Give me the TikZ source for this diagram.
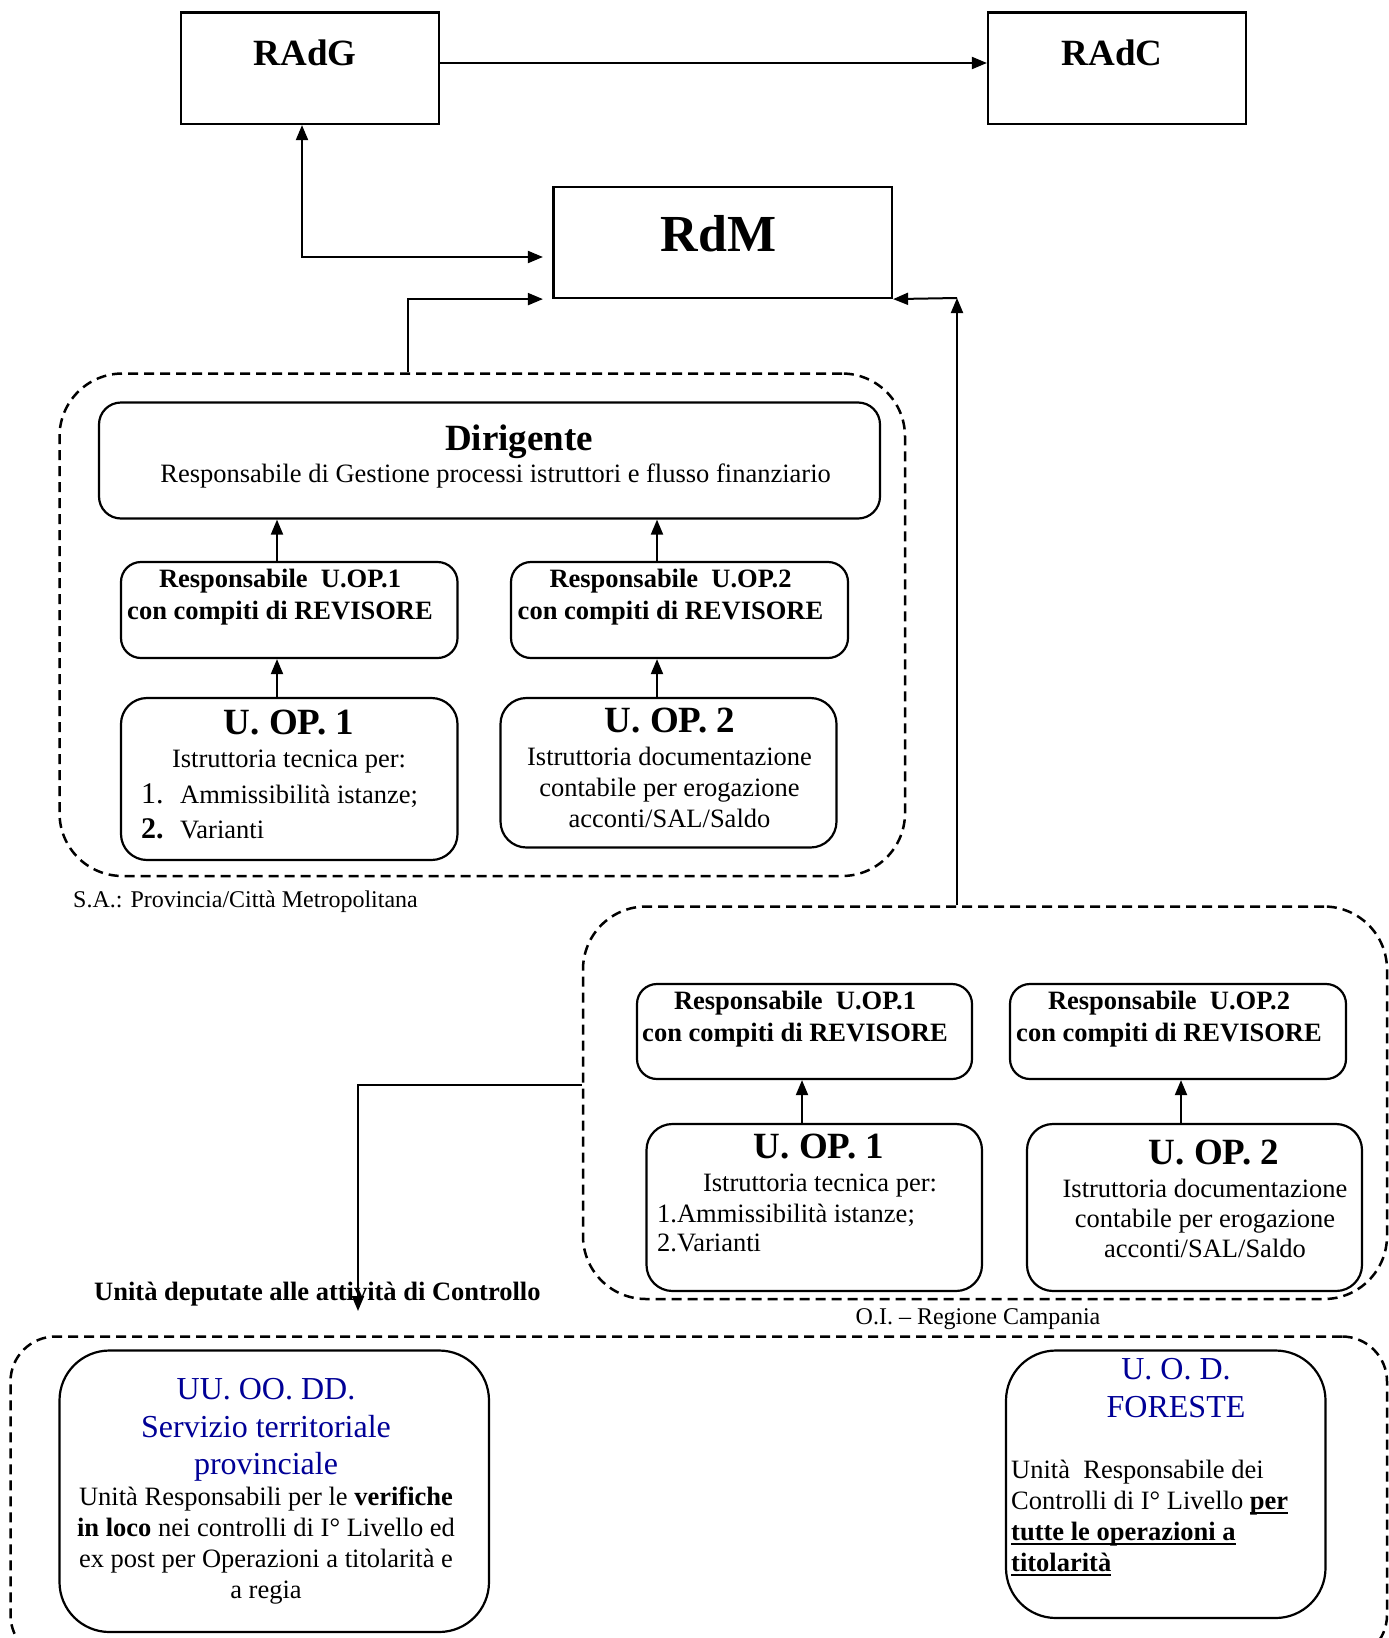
\documentclass[tikz,border=0pt]{standalone}
\usepackage{fontspec}
\setmainfont{Liberation Serif}
\usetikzlibrary{arrows.meta}
\definecolor{unitblue}{RGB}{0,0,150}
\newcommand{\fsz}[2]{\fontsize{#1}{#2}\selectfont}
% underline with a heavier rule, as used for emphasised phrases
\newcommand{\thickul}[1]{\setbox0=\hbox{#1}\leavevmode\rlap{\rule[-4.5pt]{\wd0}{2pt}}\box0}

\begin{document}
\begin{tikzpicture}[x=1pt,y=-1pt,
  frame/.style={draw, line width=2.2pt, inner sep=0pt, rectangle},
  rframe/.style={frame, rounded corners=#1},
  group/.style={draw, line width=2.5pt, dash pattern=on 10pt off 6pt,
                rounded corners=#1, inner sep=0pt, rectangle},
  link/.style={line width=2pt, -{Triangle[length=15pt,width=12pt]}},
  duallink/.style={line width=2pt,
     {Triangle[length=15pt,width=12pt]}-{Triangle[length=15pt,width=12pt]}},
  txt/.style={inner sep=0pt, font=\fsz{26.5}{31}},
  btxt/.style={inner sep=0pt, font=\bfseries\fsz{26.5}{32.5}, align=center},
  head/.style={inner sep=0pt, font=\bfseries\fsz{37}{40}},
  note/.style={inner sep=0pt, font=\fsz{24}{28}},
  bluetxt/.style={inner sep=0pt, font=\fsz{32}{37.5}, text=unitblue, align=center}
]
\useasboundingbox (0,0) rectangle (1389,1638);
\clip (0,0) rectangle (1389,1638);

% --- top level authorities ---
\node[frame, minimum width=258pt, minimum height=111.5pt] (RAdG) at (310,68.25) {};
\node[frame, minimum width=258pt, minimum height=111.5pt] (RAdC) at (1117,68.25) {};
\node[frame, minimum width=338.5pt, minimum height=111pt] (RdM) at (722.75,242.5) {};
\node[head] (tRAdG) at (305,53) {RAdG};
\node[head] (tRAdC) at (1112,53) {RAdC};
\node[inner sep=0pt, font=\bfseries\fsz{52}{56}] (tRdM) at (718.6,234) {RdM};

% --- S.A. group ---
\node[group=63pt, minimum width=845.5pt, minimum height=502.5pt] (SA) at (482.25,624.75) {};
\node[rframe=22pt, minimum width=781pt, minimum height=116pt] (Dir) at (489.5,460.5) {};
\node[rframe=20pt, minimum width=336.5pt, minimum height=96pt] (R1) at (289.25,610) {};
\node[rframe=20pt, minimum width=337pt, minimum height=96pt] (R2) at (679.5,610) {};
\node[rframe=26pt, minimum width=336.5pt, minimum height=162pt] (U1) at (289.25,779) {};
\node[rframe=26pt, minimum width=336pt, minimum height=149.5pt] (U2) at (668.5,772.75) {};

\node[head] (tDir) at (519,441.5) {Dirigente};
\node[txt] (tDirSub) at (495.6,476) {Responsabile di Gestione processi istruttori e flusso finanziario};
\node[btxt] (tR1) at (280,597) {Responsabile\ \ U.OP.1\\con compiti di REVISORE};
\node[btxt] (tR2) at (670.5,597) {Responsabile\ \ U.OP.2\\con compiti di REVISORE};
\node[head] (tU1h) at (289,723) {U. OP. 1};
\node[txt] (tU1a) at (289,762) {Istruttoria tecnica per:};
\node[txt, anchor=base west, font=\fsz{30}{31}] (tU1n1) at (141,803) {1.};
\node[txt, anchor=base west] (tU1i1) at (180,803) {Ammissibilità istanze;};
\node[txt, anchor=base west, font=\bfseries\fsz{30}{31}] (tU1n2) at (141,838) {2.};
\node[txt, anchor=base west] (tU1i2) at (180,838) {Varianti};
\node[head] (tU2h) at (670,721) {U. OP. 2};
\node[txt, align=center] (tU2a) at (669.5,787) {Istruttoria documentazione\\contabile per erogazione\\acconti/SAL/Saldo};
\node[note, anchor=west] (tSA) at (73,902) {S.A.: Provincia/Città Metropolitana};

% --- O.I. group ---
\node[group=63pt, minimum width=804pt, minimum height=392.5pt] (OI) at (985,1102.75) {};
\node[rframe=20pt, minimum width=335pt, minimum height=95pt] (R3) at (804.5,1031.5) {};
\node[rframe=20pt, minimum width=336pt, minimum height=95pt] (R4) at (1178,1031.5) {};
\node[rframe=26pt, minimum width=335.5pt, minimum height=167pt] (U3) at (814.25,1207.5) {};
\node[rframe=26pt, minimum width=335pt, minimum height=167pt] (U4) at (1194.5,1207.5) {};

\node[btxt] (tR3) at (795,1019) {Responsabile\ \ U.OP.1\\con compiti di REVISORE};
\node[btxt] (tR4) at (1169,1019) {Responsabile\ \ U.OP.2\\con compiti di REVISORE};
\node[head] (tU3h) at (819,1146) {U. OP. 1};
\node[txt] (tU3a) at (820,1186) {Istruttoria tecnica per:};
\node[txt, anchor=west, align=left, font=\fsz{26.5}{29.5}] (tU3b) at (657,1228) {1.Ammissibilità istanze;\\2.Varianti};
\node[head] (tU4h) at (1214,1152) {U. OP. 2};
\node[txt, align=center, font=\fsz{26.5}{30}] (tU4a) at (1205,1218) {Istruttoria documentazione\\contabile per erogazione\\acconti/SAL/Saldo};
\node[note] (tOI) at (978,1319) {O.I. -- Regione Campania};

% --- control units ---
\node[btxt, anchor=west] (tCtl) at (94,1294) {Unità deputate alle attività di Controllo};
\node[group=45pt, minimum width=1376.5pt, minimum height=323.5pt] (CTL) at (698.75,1498.25) {};
\node[rframe=50pt, minimum width=429.5pt, minimum height=281.5pt] (UD) at (274.25,1491.25) {};
\node[rframe=50pt, minimum width=319.5pt, minimum height=267.5pt] (UF) at (1165.75,1484.25) {};

\node[bluetxt] (tUDh) at (266,1430) {UU. OO. DD.\\Servizio territoriale\\provinciale};
\node[txt, align=center] (tUDb) at (266,1545.5) {Unità Responsabili per le \textbf{verifiche}\\\textbf{in loco} nei controlli di I° Livello ed\\ex post per Operazioni a titolarità e\\a regia};
\node[bluetxt, font=\fsz{32}{38}] (tUFh) at (1176,1388) {U. O. D.\\FORESTE};
\node[txt, anchor=west, align=left] (tUFb) at (1011,1518) {Unità\ \ Responsabile dei\\Controlli di I° Livello \thickul{\textbf{per}}\\\thickul{\textbf{tutte le operazioni a}}\\\thickul{\textbf{titolarità}}};

% --- connectors ---
\draw[link] ([yshift=5.25pt]RAdG.east) -- ([yshift=5.25pt]RAdC.west);
\draw[duallink] ([xshift=-8pt]RAdG.south) |- ([xshift=-9.5pt,yshift=-14.5pt]RdM.west);
\draw[link] ([xshift=-74.25pt]SA.north) |- ([xshift=-9.5pt]RdM.south west);
\coordinate (riser) at (957,298);
\draw[link] (riser |- OI.north) -- (riser);
\draw[link] (riser) -- (RdM.south east);

\draw[link] ([xshift=-12.25pt]R1.north) -- ([xshift=-12.25pt]R1.north |- Dir.south);
\draw[link] ([xshift=-12.25pt]U1.north) -- ([xshift=-12.25pt]U1.north |- R1.south);
\draw[link] ([xshift=-22.5pt]R2.north) -- ([xshift=-22.5pt]R2.north |- Dir.south);
\draw[link] ([xshift=-11.5pt]U2.north) -- ([xshift=-11.5pt]U2.north |- R2.south);
\draw[link] ([xshift=-12.25pt]U3.north) -- ([xshift=-12.25pt]U3.north |- R3.south);
\draw[link] ([xshift=-13.5pt]U4.north) -- ([xshift=-13.5pt]U4.north |- R4.south);

\coordinate (drop) at (358,1311);
\draw[link] ([yshift=18pt]OI.west) -| (drop);
\end{tikzpicture}
\end{document}
